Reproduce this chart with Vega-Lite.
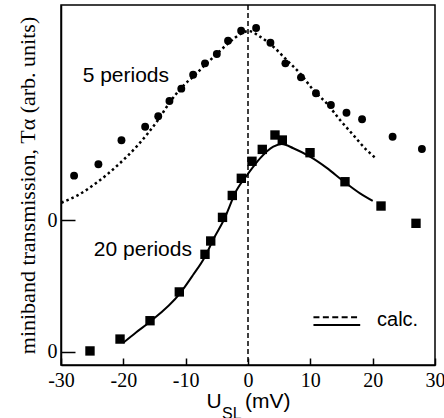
{
  "$schema": "https://vega.github.io/schema/vega-lite/v6.json",
  "width": 374,
  "height": 360,
  "autosize": {"type": "none"},
  "padding": {"left": 61, "top": 5, "right": 9, "bottom": 53},
  "background": "white",
  "config": {
    "view": {"stroke": "black", "strokeWidth": 1.5},
    "axis": {"grid": false, "domainColor": "black", "tickColor": "black", "labelColor": "black", "titleColor": "black", "domainWidth": 1.5, "tickWidth": 1.5, "labelFont": "Liberation Serif"}
  },
  "datasets": {
    "p5": [
      {"u": -27.9, "t": 1.336}, {"u": -24.0, "t": 1.422}, {"u": -20.3, "t": 1.604}, {"u": -16.5, "t": 1.707},
      {"u": -14.4, "t": 1.786}, {"u": -12.6, "t": 1.902}, {"u": -10.7, "t": 1.995}, {"u": -8.8, "t": 2.101},
      {"u": -6.9, "t": 2.187}, {"u": -5.0, "t": 2.258}, {"u": -3.2, "t": 2.358}, {"u": -1.1, "t": 2.434},
      {"u": 1.3, "t": 2.455}, {"u": 3.6, "t": 2.343}, {"u": 6.0, "t": 2.187}, {"u": 8.5, "t": 2.081},
      {"u": 10.9, "t": 1.960}, {"u": 13.3, "t": 1.871}, {"u": 15.8, "t": 1.813}, {"u": 18.3, "t": 1.763},
      {"u": 23.2, "t": 1.631}, {"u": 27.9, "t": 1.538}
    ],
    "p20": [
      {"u": -25.35, "t": 0.008}, {"u": -20.53, "t": 0.098}, {"u": -15.72, "t": 0.237}, {"u": -11.02, "t": 0.455},
      {"u": -6.90, "t": 0.740}, {"u": -5.98, "t": 0.841}, {"u": -4.09, "t": 1.020}, {"u": -2.52, "t": 1.186},
      {"u": -1.07, "t": 1.316}, {"u": 0.64, "t": 1.445}, {"u": 2.29, "t": 1.535}, {"u": 4.33, "t": 1.644},
      {"u": 5.50, "t": 1.606}, {"u": 9.95, "t": 1.510}, {"u": 15.56, "t": 1.290}, {"u": 21.34, "t": 1.106},
      {"u": 26.95, "t": 0.975}
    ],
    "calc5": [
      {"u": -29.95, "t": 1.131}, {"u": -27.27, "t": 1.189}, {"u": -24.07, "t": 1.290}, {"u": -20.86, "t": 1.417},
      {"u": -17.65, "t": 1.568}, {"u": -14.44, "t": 1.758}, {"u": -12.51, "t": 1.894}, {"u": -10.43, "t": 2.015},
      {"u": -8.50, "t": 2.098}, {"u": -6.90, "t": 2.174}, {"u": -5.02, "t": 2.258}, {"u": -3.16, "t": 2.339},
      {"u": -1.01, "t": 2.414}, {"u": 0.05, "t": 2.432}, {"u": 1.93, "t": 2.389}, {"u": 4.06, "t": 2.313},
      {"u": 6.21, "t": 2.212}, {"u": 8.34, "t": 2.111}, {"u": 10.48, "t": 1.985}, {"u": 12.63, "t": 1.884},
      {"u": 14.76, "t": 1.758}, {"u": 16.89, "t": 1.644}, {"u": 19.04, "t": 1.530}, {"u": 20.54, "t": 1.467}
    ],
    "calc20": [
      {"u": -20.01, "t": 0.070}, {"u": -17.97, "t": 0.148}, {"u": -15.72, "t": 0.229}, {"u": -10.91, "t": 0.444},
      {"u": -8.82, "t": 0.583}, {"u": -6.90, "t": 0.722}, {"u": -5.45, "t": 0.864}, {"u": -3.96, "t": 0.992},
      {"u": -1.81, "t": 1.227}, {"u": 0.05, "t": 1.353}, {"u": 1.93, "t": 1.467}, {"u": 4.06, "t": 1.556},
      {"u": 5.41, "t": 1.576}, {"u": 7.27, "t": 1.544}, {"u": 9.95, "t": 1.480}, {"u": 12.63, "t": 1.395},
      {"u": 15.29, "t": 1.295}, {"u": 17.97, "t": 1.202}, {"u": 20.01, "t": 1.145}
    ]
  },
  "encoding": {
    "x": {"field": "u", "type": "quantitative", "scale": {"domain": [-30, 30], "nice": false, "zero": false},
      "axis": {"values": [-30, -20, -10, 0, 10, 20, 30], "labelExpr": "'' + datum.value", "labelFont": "Liberation Serif", "labelFontSize": 20, "tickSize": -7, "labelPadding": 12, "labelFlush": false, "labelOverlap": false,
        "title": "U\u00a0\u00a0\u00a0\u00a0(mV)", "titleFont": "Liberation Sans", "titleFontSize": 21, "titleFontWeight": "normal", "titlePadding": 0}},
    "y": {"field": "t", "type": "quantitative", "scale": {"domain": [-0.0985, 2.629], "nice": false, "zero": false},
      "axis": {"values": [0, 1], "labelExpr": "'0'", "labelFont": "Liberation Serif", "labelFontSize": 20, "tickSize": -14, "labelPadding": 18,
        "title": "miniband transmission, Tα (arb. units)", "titleFont": "Liberation Serif", "titleFontSize": 22, "titleFontWeight": "normal", "titlePadding": 8}}
  },
  "layer": [
    {"data": {"values": [{"u": 0}]}, "mark": {"type": "rule", "color": "black", "strokeWidth": 1.5, "strokeDash": [5, 3]}, "encoding": {"y": null}},
    {"data": {"name": "calc5"}, "mark": {"type": "line", "color": "black", "strokeWidth": 2.5, "strokeDash": [2.5, 3], "interpolate": "monotone"}},
    {"data": {"name": "calc20"}, "mark": {"type": "line", "color": "black", "strokeWidth": 2, "interpolate": "monotone"}},
    {"data": {"name": "p5"}, "mark": {"type": "circle", "color": "black", "opacity": 1, "size": 62}},
    {"data": {"name": "p20"}, "mark": {"type": "square", "color": "black", "opacity": 1, "size": 88}},
    {"data": {"values": [{"u": 10.5, "u2": 18, "t": 0.263}]}, "mark": {"type": "rule", "color": "black", "strokeWidth": 2, "strokeDash": [6, 3.4]}, "encoding": {"x2": {"field": "u2"}}},
    {"data": {"values": [{"u": 10.5, "u2": 18, "t": 0.2045}]}, "mark": {"type": "rule", "color": "black", "strokeWidth": 2}, "encoding": {"x2": {"field": "u2"}}},
    {"data": {"values": [
        {"u": -19.6, "t": 2.088, "label": "5 periods"},
        {"u": -16.86, "t": 0.775, "label": "20 periods"}
      ]},
      "mark": {"type": "text", "font": "Liberation Sans", "fontSize": 21, "align": "center", "baseline": "middle", "color": "black"},
      "encoding": {"text": {"field": "label"}}},
    {"data": {"values": [{"u": 20.7, "t": 0.242, "label": "calc."}]},
      "mark": {"type": "text", "font": "Liberation Sans", "fontSize": 20, "align": "left", "baseline": "middle", "color": "black"},
      "encoding": {"text": {"field": "label"}}},
    {"data": {"values": [{"u": -4.17, "t": -0.51, "label": "SL"}]},
      "mark": {"type": "text", "font": "Liberation Sans", "fontSize": 16, "align": "left", "baseline": "alphabetic", "color": "black", "clip": false},
      "encoding": {"text": {"field": "label"}}}
  ]
}
